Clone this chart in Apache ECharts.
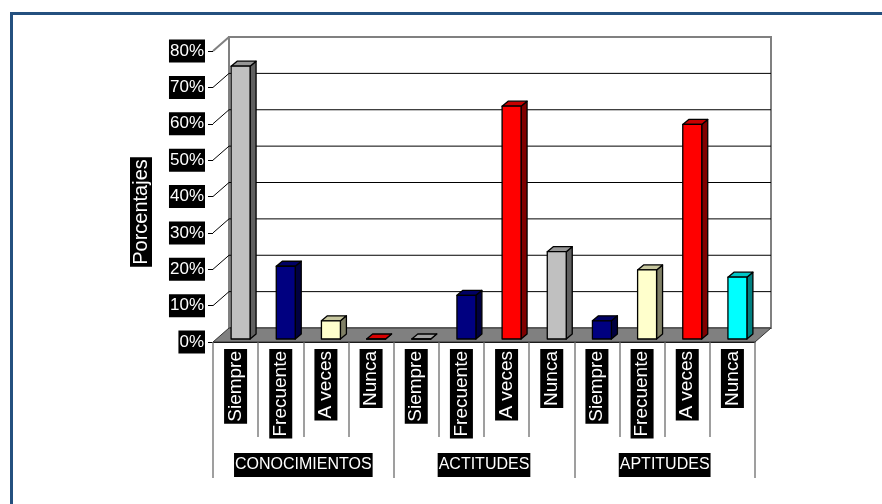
<!DOCTYPE html>
<html>
<head>
<meta charset="utf-8">
<script src="https://cdn.jsdelivr.net/npm/echarts@6/dist/echarts.min.js"></script>
<style>
  html, body { margin: 0; padding: 0; background: #fff; }
  #chart { width: 882px; height: 504px; }
</style>
</head>
<body>
<div id="chart"></div>
<script>
// Survey answers per dimension (percent of respondents)
const groups = ['CONOCIMIENTOS', 'ACTITUDES', 'APTITUDES'];
const answers = ['Siempre', 'Frecuente', 'A veces', 'Nunca'];
const conocimientos = [75, 20, 5, 0];
const actitudes = [0, 12, 64, 24];
const aptitudes = [5, 19, 59, 17];
const yMin = 0, yMax = 80, yStep = 10;

// Fill colour of each column, in category order
const barColors = [
  '#C0C0C0', '#000080', '#FFFFCC', '#FF0000',
  '#C0C0C0', '#000080', '#FF0000', '#C0C0C0',
  '#000080', '#FFFFCC', '#FF0000', '#00FFFF'
];

const categories = [].concat(answers, answers, answers);
const values = [].concat(conocimientos, actitudes, aptitudes);
const barData = values.map((v, i) => [i, v]);

const FONT = "'Liberation Sans', Arial, sans-serif";
// depth of the 3D box (back wall offset) and of each column
const DX = 16, DY = -14;
const COL_OX = 5, COL_OY = -3, COL_DX = 6, COL_DY = -5;

function shade(hex, f) {
  const n = parseInt(hex.slice(1), 16);
  const r = Math.round(((n >> 16) & 255) * f);
  const g = Math.round(((n >> 8) & 255) * f);
  const b = Math.round((n & 255) * f);
  return 'rgb(' + r + ',' + g + ',' + b + ')';
}

// walls, floor and gridlines of the 3D box
function renderFrame(params, api) {
  const cs = params.coordSys;
  const x = cs.x, y = cs.y, w = cs.width, h = cs.height;
  const children = [];
  children.push({
    type: 'polygon',
    shape: { points: [[x, y], [x + DX, y + DY], [x + DX, y + h + DY], [x, y + h]] },
    style: { fill: '#fff', stroke: null }
  });
  children.push({
    type: 'rect',
    shape: { x: x + DX, y: y + DY, width: w, height: h },
    style: { fill: '#fff', stroke: '#808080', lineWidth: 2 }
  });
  for (let v = yMin + yStep; v <= yMax; v += yStep) {
    const yv = api.coord([0, v])[1];
    const top = v === yMax;
    children.push({
      type: 'polyline',
      shape: { points: [[x, yv], [x + DX, yv + DY], [x + DX + w, yv + DY]] },
      style: { stroke: top ? '#808080' : '#000', lineWidth: top ? 2 : 1, fill: null }
    });
  }
  children.push({
    type: 'polygon',
    shape: { points: [[x, y + h], [x + w, y + h], [x + w + DX, y + h + DY], [x + DX, y + h + DY]] },
    style: { fill: '#808080', stroke: '#333', lineWidth: 1 }
  });
  return { type: 'group', children: children };
}

// one 3D column: front, side and top faces
function renderBar(params, api) {
  const idx = api.value(0);
  const val = api.value(1);
  const base = api.coord([idx, 0]);
  const top = api.coord([idx, val]);
  const band = api.size([1, 0])[0];
  const w = band * 0.42;
  const x0 = base[0] + COL_OX - w / 2;
  const x1 = x0 + w;
  const yb = base[1] + COL_OY;
  const yt = top[1] + COL_OY;
  const c = barColors[idx];
  const edge = { stroke: '#000', lineWidth: 1.3, lineJoin: 'round' };
  return {
    type: 'group',
    children: [
      {
        type: 'polygon',
        shape: { points: [[x1, yt], [x1 + COL_DX, yt + COL_DY], [x1 + COL_DX, yb + COL_DY], [x1, yb]] },
        style: Object.assign({ fill: shade(c, 0.5) }, edge)
      },
      {
        type: 'polygon',
        shape: { points: [[x0, yt], [x0 + COL_DX, yt + COL_DY], [x1 + COL_DX, yt + COL_DY], [x1, yt]] },
        style: Object.assign({ fill: shade(c, val > 0 ? 0.78 : 0.85) }, edge)
      },
      {
        type: 'rect',
        shape: { x: x0, y: yt, width: w, height: yb - yt },
        style: Object.assign({ fill: c }, edge)
      }
    ]
  };
}

const labelBox = {
  color: '#fff',
  backgroundColor: '#000',
  fontFamily: FONT
};

const chart = echarts.init(document.getElementById('chart'));
chart.setOption({
  animation: false,
  backgroundColor: '#fff',
  grid: { left: 213, right: 127, top: 51, bottom: 162, containLabel: false },
  xAxis: [
    {
      type: 'category',
      data: categories,
      position: 'bottom',
      axisLine: { show: true, lineStyle: { color: '#000', width: 1 } },
      axisTick: { show: true, interval: 0, length: 95, lineStyle: { color: '#808080', width: 1.5 } },
      axisLabel: Object.assign({
        interval: 0, rotate: 90, fontSize: 19, lineHeight: 21,
        padding: [1, 2], margin: 7
      }, labelBox),
      splitLine: { show: false }
    },
    {
      type: 'category',
      data: groups,
      position: 'bottom',
      offset: 0,
      axisLine: { show: false },
      axisTick: { show: true, interval: 0, length: 136, lineStyle: { color: '#808080', width: 1.5 } },
      axisLabel: Object.assign({
        interval: 0, fontSize: 16, lineHeight: 20, padding: [2, 1], margin: 111
      }, labelBox),
      splitLine: { show: false }
    }
  ],
  yAxis: {
    type: 'value',
    min: yMin, max: yMax, interval: yStep,
    axisLine: { show: true, lineStyle: { color: '#000', width: 1 } },
    axisTick: { show: true, length: 5, lineStyle: { color: '#000' } },
    axisLabel: Object.assign({
      formatter: '{value}%', fontSize: 17, lineHeight: 21, padding: [1, 1], margin: 8
    }, labelBox),
    splitLine: { show: false }
  },
  graphic: [
    {
      type: 'rect',
      left: 9, top: 11,
      shape: { width: 900, height: 600 },
      style: { fill: null, stroke: '#24507f', lineWidth: 3 },
      z: 100
    },
    {
      type: 'text',
      x: 141, y: 212,
      rotation: Math.PI / 2,
      style: {
        text: 'Porcentajes',
        fill: '#fff',
        backgroundColor: '#000',
        font: '20px ' + FONT,
        align: 'center',
        verticalAlign: 'middle',
        padding: [1, 2]
      },
      z: 100
    }
  ],
  series: [
    {
      type: 'custom',
      name: 'frame',
      xAxisIndex: 0, yAxisIndex: 0,
      data: [[0, 0]],
      renderItem: renderFrame,
      z: 1,
      silent: true
    },
    {
      type: 'custom',
      name: 'Porcentajes',
      xAxisIndex: 0, yAxisIndex: 0,
      data: barData,
      renderItem: renderBar,
      z: 3
    }
  ]
});
</script>
</body>
</html>
